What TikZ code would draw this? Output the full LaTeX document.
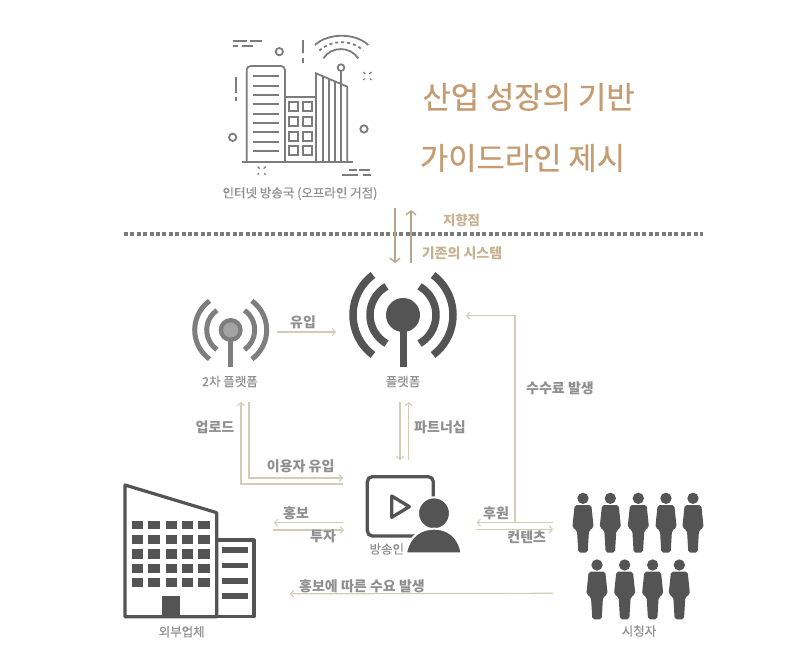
\documentclass[tikz,border=0pt]{standalone}
\usepackage{fontspec}
\setmainfont{Noto Sans CJK KR}
\newfontfamily\heavyfont[FakeBold=0.6]{Noto Sans CJK KR}
\newfontfamily\softfont[FakeBold=0.35]{Noto Sans CJK KR}
\usetikzlibrary{arrows.meta}
\definecolor{iconline}{HTML}{7C7C7C}
\definecolor{darkicon}{HTML}{545454}
\definecolor{midicon}{HTML}{7E7E7E}
\definecolor{lighticon}{HTML}{A3A3A3}
\definecolor{titlecol}{HTML}{C59B72}
\definecolor{tanlabel}{HTML}{C6B290}
\definecolor{tanline}{HTML}{B5A68E}
\definecolor{paleline}{HTML}{D5CCB8}
\definecolor{labelcol}{HTML}{8F8F8F}
\definecolor{dotcol}{HTML}{7A7A7A}
\tikzset{
  titletext/.style={text=titlecol,font=\heavyfont\fontsize{30.8}{32}\selectfont,inner sep=0pt},
  smalllabel/.style={text=labelcol,font=\softfont\fontsize{12.5}{14}\selectfont,inner sep=0pt},
  boldlabel/.style={text=labelcol,font=\fontsize{14}{16}\selectfont\bfseries,inner sep=0pt},
  tanbold/.style={text=tanlabel,font=\fontsize{14}{16}\selectfont\bfseries,inner sep=0pt},
  mainarrow/.style={draw=tanline,line width=1.6pt,-{Straight Barb[length=4pt,width=10pt,line width=1.3pt]}},
  flowarrow/.style={draw=paleline,line width=1.2pt,-{Straight Barb[length=3pt,width=7pt,line width=1.1pt]}},
  linework/.style={draw=iconline,line width=1.8pt},
  viewerfig/.pic={
    \fill[darkicon] (0,0) circle[radius=17];
    \fill[darkicon,rounded corners=2pt] (-25,20) -- (25,20) -- (32,88) -- (18,96) -- (14,163) -- (-14,163) -- (-18,96) -- (-32,88) -- cycle;
  }
}
\begin{document}
\begin{tikzpicture}[x=1pt,y=-1pt]
\useasboundingbox (0,0) rectangle (800,664);
\fill[white] (0,0) rectangle (800,664);

% --- connector end points
\coordinate (sysTopA) at (395,208);
\coordinate (sysBotA) at (395,263);
\coordinate (sysBotB) at (411,263);
\coordinate (sysTopB) at (411,210);
\coordinate (secRight) at (277,332);
\coordinate (platLeft) at (336,332);
\coordinate (platRight) at (466,315.7);
\coordinate (feeCorner) at (515,315.7);
\coordinate (feeJoin) at (515,522.7);
\coordinate (secDownA) at (241,402);
\coordinate (secDownB) at (249,402);
\coordinate (upCorner) at (241,484);
\coordinate (inCorner) at (249,478);
\coordinate (strUpper) at (343,484);
\coordinate (strLower) at (343,478);
\coordinate (platDownA) at (400,402);
\coordinate (platDownB) at (408.7,402);
\coordinate (strTopA) at (400,460);
\coordinate (strTopB) at (408.7,460);
\coordinate (strLeftA) at (343,522.7);
\coordinate (strLeftB) at (344,530);
\coordinate (firmA) at (274,522.7);
\coordinate (firmB) at (272.7,530);
\coordinate (strRightA) at (476.7,522.7);
\coordinate (strRightB) at (476,529.3);
\coordinate (viewA) at (553,522.7);
\coordinate (viewB) at (553,529.3);
\coordinate (viewC) at (553,593.3);
\coordinate (firmC) at (290,593.8);

% --- divider
\draw[dotcol,line width=4pt,dash pattern=on 4pt off 2.4pt] (124,234) -- (703,234);

% --- top city icon
\begin{scope}[xshift=210pt,yshift=-20pt,x=0.3333pt,y=-0.3333pt]
  \draw[linework,rounded corners=4pt] (110,425) -- (110,138) -- (225,138) -- (225,425);
  \foreach \yy in {168,197,225,253,281,309,337,365,393}
    \draw[linework] (128,\yy) -- (208,\yy);
  \draw[linework] (225,230) -- (318,230);
  \foreach \xx in {238,278}
    \foreach \yy in {245,290,335,378}
      \draw[linework] (\xx,\yy) rectangle ++(27,27);
  \draw[linework] (318,425) -- (318,160) -- (412,200) -- (412,425);
  \foreach \xx in {338,358,375,393}
    \draw[linework] (\xx,{160+(\xx-318)*0.4255}) -- (\xx,425);
  \draw[linework] (393,152) -- (393,190);
  \draw[linework] (393,143) circle[radius=10];
  \draw[linework] (95,425) -- (430,425);
  \draw[linework] (68,352) circle[radius=11];
  \draw[linework] (462,327) circle[radius=11];
  \draw[linework] (208,95) circle[radius=11];
  \draw[linework] (340,115) .. controls (365,78) and (420,78) .. (445,115);
  \draw[linework,dash pattern=on 3pt off 3pt] (328,92) .. controls (365,58) and (425,58) .. (460,92);
  \draw[linework] (315,75) .. controls (355,38) and (435,38) .. (475,75);
  \draw[linework] (68,62) -- (112,62) (120,62) -- (155,62) (68,78) -- (85,78) (95,78) -- (130,78);
  \draw[linework] (397,466) -- (445,466) (460,466) -- (482,466) (418,450) -- (442,450) (447,450) -- (480,450);
  \draw[linework] (278,60) -- (278,100) (278,115) -- (278,130);
  \draw[linework] (77,172) -- (77,220) (77,230) -- (77,243);
  \foreach \cx/\cy in {155/452,472/168} {
    \draw[draw=iconline,line width=1.3pt]
      (\cx-12,\cy-12) -- (\cx-6,\cy-6) (\cx+12,\cy-12) -- (\cx+6,\cy-6)
      (\cx-12,\cy+12) -- (\cx-8,\cy+8) (\cx+12,\cy+12) -- (\cx+8,\cy+8);
  }
\end{scope}
\node[smalllabel] (cityLabel) at (300,193.5) {인터넷 방송국 (오프라인 거점)};

% --- titles
\node[titletext] (titleOne) at (528.5,97) {산업 성장의 기반};
\node[titletext] (titleTwo) at (522.5,158) {가이드라인 제시};

% --- main platform antenna
\coordinate (bigC) at (403,315);
\fill[darkicon] (bigC) circle[radius=17];
\draw[darkicon,line width=7pt] (bigC) -- (403,367);
\draw[darkicon,line width=7.5pt] ([shift={(120:33pt)}]bigC) arc[start angle=120,end angle=240,radius=33pt];
\draw[darkicon,line width=7.5pt] ([shift={(60:33pt)}]bigC) arc[start angle=60,end angle=-60,radius=33pt];
\draw[darkicon,line width=7.5pt] ([shift={(127:50pt)}]bigC) arc[start angle=127,end angle=233,radius=50pt];
\draw[darkicon,line width=7.5pt] ([shift={(53:50pt)}]bigC) arc[start angle=53,end angle=-53,radius=50pt];
\node[smalllabel] (platLabel) at (403,381.5) {플랫폼};

% --- secondary platform antenna
\coordinate (smC) at (230.7,330);
\draw[midicon,line width=5pt] (smC) -- (230.7,367);
\fill[midicon] (smC) circle[radius=12];
\fill[lighticon] (smC) circle[radius=7.5];
\draw[midicon,line width=5pt] ([shift={(125:24pt)}]smC) arc[start angle=125,end angle=235,radius=24pt];
\draw[midicon,line width=5pt] ([shift={(55:24pt)}]smC) arc[start angle=55,end angle=-55,radius=24pt];
\draw[midicon,line width=5pt] ([shift={(126:36pt)}]smC) arc[start angle=126,end angle=234,radius=36pt];
\draw[midicon,line width=5pt] ([shift={(54:36pt)}]smC) arc[start angle=54,end angle=-54,radius=36pt];
\node[smalllabel] (secLabel) at (230,381.5) {2차 플랫폼};

% --- streamer icon
\begin{scope}[xshift=350pt,yshift=-460pt,x=0.3333pt,y=-0.3333pt]
  \draw[darkicon,line width=3.3pt,rounded corners=5pt] (52,50) rectangle (250,228);
  \draw[darkicon,line width=3.3pt,line join=round] (125,108) -- (125,172) -- (178,140) -- cycle;
  \filldraw[fill=darkicon,draw=white,line width=2pt] (252,160) circle[radius=48];
  \filldraw[fill=darkicon,draw=white,line width=2pt] (168,280) .. controls (178,225) and (215,206) .. (252,206) .. controls (290,206) and (325,225) .. (335,280) -- cycle;
\end{scope}
\node[smalllabel,fill=white,inner sep=1pt] (strLabel) at (386.7,549) {방송인};

% --- firm icon
\begin{scope}[xshift=110pt,yshift=-470pt,x=0.3333pt,y=-0.3333pt]
  \draw[darkicon,line width=3.2pt,line join=round] (45,45) -- (320,128) -- (320,440) -- (45,440) -- cycle;
  \draw[darkicon,line width=3.2pt,line join=round] (320,210) -- (432,210) -- (432,440) -- (320,440);
  \foreach \xa/\xb in {65/100,115/150,167/200,217/250,265/300}
    \foreach \ya/\yb in {152/178,195/222,238/266,281/309,324/352}
      \fill[darkicon] (\xa,\ya) rectangle (\xb,\yb);
  \foreach \ya/\yb in {231/248,278/295,324/341,370/387}
    \fill[darkicon] (335,\ya) rectangle (415,\yb);
  \fill[darkicon] (157,378) rectangle (210,440);
\end{scope}
\node[smalllabel] (firmLabel) at (181.7,631.7) {외부업체};

% --- viewers
\begin{scope}[xshift=470pt,yshift=-480pt,x=0.3333pt,y=-0.3333pt]
  \foreach \xx in {339,421,505,588,669}
    \pic at (\xx,55) {viewerfig};
  \foreach \xx in {381,464,548,628}
    \pic at (\xx,255) {viewerfig};
\end{scope}
\node[smalllabel] (viewLabel) at (639,631) {시청자};

% --- connectors
\draw[mainarrow] (sysTopA) -- (sysBotA);
\draw[mainarrow] (sysBotB) -- (sysTopB);
\draw[flowarrow] (secRight) -- (platLeft);
\draw[flowarrow] (feeJoin) -- (feeCorner) -- (platRight);
\draw[flowarrow] (strUpper) -- (upCorner) -- (secDownA);
\draw[flowarrow] (secDownB) -- (inCorner) -- (strLower);
\draw[flowarrow] (platDownA) -- (strTopA);
\draw[flowarrow] (strTopB) -- (platDownB);
\draw[flowarrow] (strLeftA) -- (firmA);
\draw[flowarrow] (firmB) -- (strLeftB);
\draw[flowarrow] (viewA) -- (strRightA);
\draw[flowarrow] (strRightB) -- (viewB);
\draw[flowarrow] (viewC) -- (firmC);

% --- connector labels
\node[tanbold,font=\fontsize{13.4}{15}\selectfont\bfseries] (lblAim) at (461.5,220) {지향점};
\node[tanbold] (lblSys) at (462,253) {기존의 시스템};
\node[boldlabel] (lblIn) at (303,322) {유입};
\node[boldlabel] (lblFee) at (560,388) {수수료 발생};
\node[boldlabel] (lblUp) at (215,427) {업로드};
\node[boldlabel] (lblUser) at (300.7,466) {이용자 유입};
\node[boldlabel] (lblPart) at (440,427.7) {파트너십};
\node[boldlabel] (lblPromo) at (296,513) {홍보};
\node[boldlabel] (lblInvest) at (323,536.7) {투자};
\node[boldlabel] (lblDon) at (496,513) {후원};
\node[boldlabel] (lblCont) at (526.7,536.7) {컨텐츠};
\node[boldlabel] (lblDemand) at (362,586) {홍보에 따른 수요 발생};
\end{tikzpicture}
\end{document}
